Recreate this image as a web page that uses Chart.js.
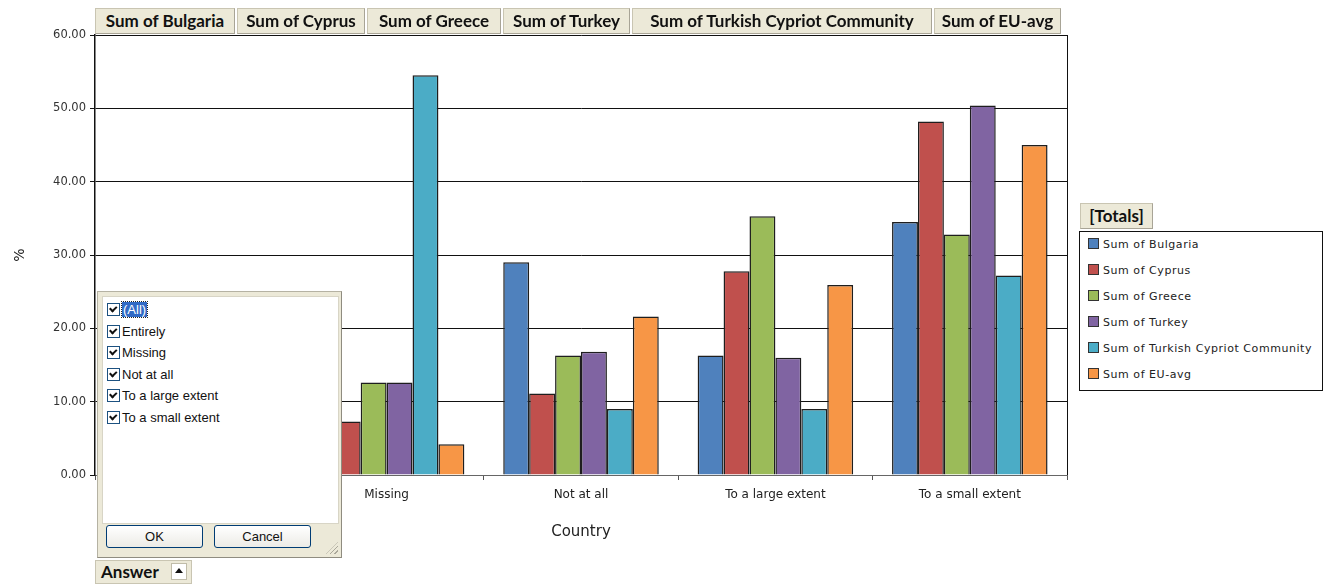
<!DOCTYPE html>
<html>
<head>
<meta charset="utf-8">
<script src="https://cdn.jsdelivr.net/npm/chart.js@4/dist/chart.umd.min.js"></script>
<style>
  html, body { margin: 0; padding: 0; background: #fff; }
  body { width: 1329px; height: 584px; position: relative; overflow: hidden; }
  #wrap { position: absolute; left: 0; top: 0; width: 1329px; height: 584px; }
  .fieldBtn {
    position: absolute; top: 8px; height: 26px; box-sizing: border-box;
    background: #ece9d8; border: 1px solid #c9c5b2; border-right-color: #a8a496; border-bottom-color: #a8a496;
    font: bold 17px Lato, sans-serif; color: #111; line-height: 24px; text-align: center; white-space: nowrap;
  }
  #legendBox {
    position: absolute; left: 1079px; top: 231px; width: 244px; height: 160px; box-sizing: border-box;
    border: 1px solid #111; background: #fff;
  }
  .legItem { position: absolute; left: 8px; font: 11px "DejaVu Sans", sans-serif; letter-spacing: 0.55px; color: #222; white-space: nowrap; }
  .legItem span.sw { display: inline-block; width: 9px; height: 9px; border: 1px solid #333; margin-right: 4px; vertical-align: -1px; }
  #dropdown {
    position: absolute; left: 97px; top: 291px; width: 245px; height: 267px; box-sizing: border-box;
    background: #ece9d8; border: 1px solid #b5b2a3; border-right-color: #8f8c80; border-bottom-color: #8f8c80;
  }
  #ddList { position: absolute; left: 4px; top: 4px; width: 235px; height: 226px; background: #fff; border: 1px solid #d8d5c6; }
  .ddRow { position: absolute; left: 4px; font: 13px "Liberation Sans", Arial, sans-serif; color: #111; white-space: nowrap; height: 18px; line-height: 17px; }
  .ddRow .cb { display: inline-block; width: 11px; height: 11px; border: 1px solid #1c5180; background: #fff; vertical-align: -2px; margin-right: 2px; position: relative; }
  .ddRow .cb::after { content: ''; position: absolute; width: 5px; height: 3px; border-left: 2px solid #111; border-bottom: 2px solid #111; transform: rotate(-45deg); transform-origin: 0 0; top: 5px; left: 1px; }
  .ddRow .sel { background: #316ac5; color: #fff; outline: 1px dotted #222; padding: 0 1px; }
  .ddBtn {
    position: absolute; top: 233px; width: 97px; height: 23px; box-sizing: border-box;
    border: 1px solid #003c74; border-radius: 3px; background: linear-gradient(#fff, #ecebe6);
    font: 13px "Liberation Sans", Arial, sans-serif; color: #111; text-align: center; line-height: 21px;
  }
  #grip { position: absolute; right: 3px; bottom: 3px; width: 12px; height: 12px;
    background: repeating-linear-gradient(135deg, transparent 0 2px, #aaa79a 2px 3px); clip-path: polygon(100% 0, 100% 100%, 0 100%); }
  #answerBtn {
    position: absolute; left: 95px; top: 560px; width: 97px; height: 24px; box-sizing: border-box;
    background: #ece9d8; border: 1px solid #c9c5b2; font: bold 17px Lato, sans-serif; color: #111; line-height: 22px; padding-left: 5px;
  }
  #answerBtn .arr { position: absolute; right: 4px; top: 2px; width: 16px; height: 17px; border: 1px solid #c0bca9; background: #fff; box-sizing: border-box; }
  #answerBtn .arr::after { content: ''; position: absolute; left: 3px; top: 4px; border-left: 4px solid transparent; border-right: 4px solid transparent; border-bottom: 5px solid #111; }
</style>
</head>
<body>
<div id="wrap"><canvas id="chart" width="1329" height="584"></canvas></div>
<div id="fields"></div>
<div class="fieldBtn" style="left:1080px;top:203px;width:73px;">[Totals]</div>
<div id="legendBox"></div>
<div id="dropdown">
  <div id="ddList"></div>
  <div class="ddBtn" style="left:8px;">OK</div>
  <div class="ddBtn" style="left:116px;">Cancel</div>
  <div id="grip"></div>
</div>
<div id="answerBtn">Answer<span class="arr"></span></div>
<script>
// categories on the x axis
const answers = ['Entirely', 'Missing', 'Not at all', 'To a large extent', 'To a small extent'];
const seriesNames = ['Sum of Bulgaria', 'Sum of Cyprus', 'Sum of Greece', 'Sum of Turkey', 'Sum of Turkish Cypriot Community', 'Sum of EU-avg'];
const seriesColors = ['#4f81bd', '#c0504d', '#9bbb59', '#8064a2', '#4bacc6', '#f79646'];

// values per series, in % (Entirely + Missing Bulgaria are hidden under the filter box, estimated)
const bulgaria = [4.7, 15.5, 29.0, 16.3, 34.5];
const cyprus   = [5.6, 7.3, 11.1, 27.8, 48.2];
const greece   = [3.0, 12.6, 16.3, 35.3, 32.8];
const turkey   = [4.2, 12.6, 16.8, 16.0, 50.4];
const tcc      = [0.3, 54.5, 9.0, 9.0, 27.2];
const euAvg    = [3.3, 4.2, 21.6, 25.9, 45.0];
const seriesValues = [bulgaria, cyprus, greece, turkey, tcc, euAvg];

const yTicks = [0, 10, 20, 30, 40, 50, 60];

// field buttons across the top (pivot chart look)
const fieldEdges = [95, 237, 367, 503, 632, 934, 1063];
const fields = document.getElementById('fields');
seriesNames.forEach((name, i) => {
    const d = document.createElement('div');
    d.className = 'fieldBtn';
    d.style.left = fieldEdges[i] + 'px';
    d.style.width = (fieldEdges[i + 1] - fieldEdges[i] - 2) + 'px';
    d.textContent = name;
    fields.appendChild(d);
});

// legend built from the same arrays
const legendBox = document.getElementById('legendBox');
seriesNames.forEach((name, i) => {
    const d = document.createElement('div');
    d.className = 'legItem';
    d.style.top = (6 + i * 26) + 'px';
    d.innerHTML = `<span class="sw" style="background:${seriesColors[i]}"></span>${name}`;
    legendBox.appendChild(d);
});

// filter dropdown list
const ddList = document.getElementById('ddList');
['(All)'].concat(answers).forEach((txt, i) => {
    const d = document.createElement('div');
    d.className = 'ddRow';
    d.style.top = (4 + i * 21.6) + 'px';
    d.innerHTML = `<span class="cb"></span>` + (i === 0 ? `<span class="sel">${txt}</span>` : txt);
    ddList.appendChild(d);
});

// right border of the plot area
const plotFrame = {
    id: 'plotFrame',
    afterDraw(chart) {
        const { ctx, chartArea } = chart;
        ctx.save();
        ctx.strokeStyle = '#111';
        ctx.lineWidth = 1;
        ctx.beginPath();
        ctx.moveTo(chartArea.right + 0.5, chartArea.top);
        ctx.lineTo(chartArea.right + 0.5, chartArea.bottom);
        ctx.stroke();
        ctx.restore();
    }
};

new Chart(document.getElementById('chart'), {
    type: 'bar',
    data: {
        labels: answers,
        datasets: seriesNames.map((name, i) => ({
            label: name,
            data: seriesValues[i],
            backgroundColor: seriesColors[i],
            borderColor: '#1e1e1e',
            borderWidth: 1.5,
            categoryPercentage: 0.80,
            barPercentage: 1.0
        }))
    },
    options: {
        responsive: false,
        animation: false,
        layout: { padding: { top: 35, right: 262, bottom: 0, left: 0 } },
        plugins: {
            legend: { display: false },
            tooltip: { enabled: false }
        },
        scales: {
            x: {
                afterFit(scale) { scale.height = 109; },
                grid: { drawOnChartArea: false, drawTicks: true, tickLength: 5, color: '#555' },
                border: { color: '#666', width: 1 },
                ticks: { padding: 8, color: '#222', font: { family: 'DejaVu Sans', size: 12 }, maxRotation: 0 },
                title: { display: true, text: 'Country', color: '#222', font: { family: 'DejaVu Sans', size: 15 }, padding: { top: 0, bottom: 43 } }
            },
            y: {
                min: 0,
                max: 60,
                afterFit(scale) { scale.width = 95; },
                afterBuildTicks(scale) { scale.ticks = yTicks.map(v => ({ value: v })); },
                grid: { color: '#111', lineWidth: 1, tickLength: 5, drawTicks: true },
                border: { color: '#111', width: 1.5 },
                ticks: { padding: 4, color: '#333', font: { family: 'DejaVu Sans', size: 11.5 }, callback: v => v.toFixed(2) },
                title: { display: true, text: '%', color: '#222', font: { family: 'DejaVu Sans', size: 14 }, padding: { top: 12, bottom: 0 } }
            }
        }
    },
    plugins: [plotFrame]
});
</script>
</body>
</html>
